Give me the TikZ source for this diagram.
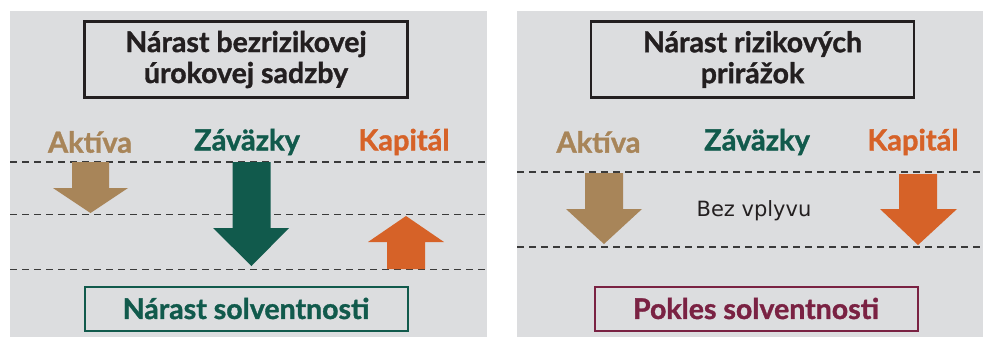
\documentclass[tikz,border=0pt]{standalone}
\usepackage{fontspec}
\setmainfont{Lato}[BoldFeatures={FakeBold=1.2}]
\newfontfamily\plainfont{DejaVu Sans}
\definecolor{panelgray}{HTML}{DCDDDF}
\definecolor{darktext}{HTML}{231F20}
\definecolor{brownc}{HTML}{A88559}
\definecolor{greenc}{HTML}{115A4C}
\definecolor{orangec}{HTML}{D66228}
\definecolor{maroonc}{HTML}{7A2243}
\definecolor{dashc}{HTML}{3A3A3A}
\tikzset{
  titlebox/.style={draw=darktext, line width=2.2pt, minimum width=323pt, minimum height=76pt, align=center, inner sep=0pt, font=\fontsize{28.5}{31}\selectfont\bfseries, text=darktext},
  resbox/.style={line width=2pt, minimum width=323pt, minimum height=44pt, inner sep=0pt, font=\fontsize{28.5}{31}\selectfont\bfseries},
  colhead/.style={inner sep=0pt, font=\fontsize{29}{31}\selectfont\bfseries},
  dashline/.style={draw=dashc, line width=1.5pt, dash pattern=on 7pt off 5pt},
}
\begin{document}
\begin{tikzpicture}[x=1pt,y=-1pt]
\useasboundingbox (0,0) rectangle (983,338);
\fill[white] (0,0) rectangle (983,338);
\fill[panelgray] (10,11) rectangle (487,337);
\fill[panelgray] (517,11) rectangle (983,337);

% ---------- left panel ----------
\node[titlebox] (t1) at (246,59.5) {Nárast bezrizikovej\\úrokovej sadzby};
\node[colhead, text=brownc] (a1) at (90,142) {Aktíva};
\node[colhead, text=greenc] (z1) at (247,142) {Záväzky};
\node[colhead, text=orangec] (k1) at (404,142) {Kapitál};
\draw[dashline] (10,162) -- (487,162);
\draw[dashline] (10,214.5) -- (487,214.5);
\draw[dashline] (10,269.5) -- (487,269.5);
\fill[brownc] (72,162) -- (109,162) -- (109,188) -- (128,188) -- (90.5,213) -- (53,188) -- (72,188) -- cycle;
\fill[greenc] (232.5,162) -- (270.5,162) -- (270.5,228) -- (289,228) -- (251.5,266) -- (213,228) -- (232.5,228) -- cycle;
\fill[orangec] (387,269) -- (425,269) -- (425,242) -- (444,242) -- (406,216) -- (368,242) -- (387,242) -- cycle;
\node[resbox, draw=greenc, text=greenc] (r1) at (246,308.5) {Nárast solventnosti};

% ---------- right panel ----------
\node[titlebox] (t2) at (752.5,59.5) {Nárast rizikových\\prirážok};
\node[colhead, text=brownc] (a2) at (598.5,142) {Aktíva};
\node[colhead, text=greenc] (z2) at (757,142) {Záväzky};
\node[colhead, text=orangec] (k2) at (913,142) {Kapitál};
\draw[dashline] (517,172) -- (983,172);
\draw[dashline] (517,247) -- (983,247);
\fill[brownc] (585,173) -- (623,173) -- (623,209) -- (642,209) -- (604,244) -- (566,209) -- (585,209) -- cycle;
\fill[orangec] (899,174) -- (937,174) -- (937,209) -- (957,209) -- (918,245) -- (880,209) -- (899,209) -- cycle;
\node[inner sep=0pt, font=\plainfont\fontsize{21}{25}\selectfont, text=darktext] (bv) at (754,211) {Bez vplyvu};
\node[resbox, draw=maroonc, text=maroonc] (r2) at (756,308.5) {Pokles solventnosti};
\end{tikzpicture}
\end{document}
